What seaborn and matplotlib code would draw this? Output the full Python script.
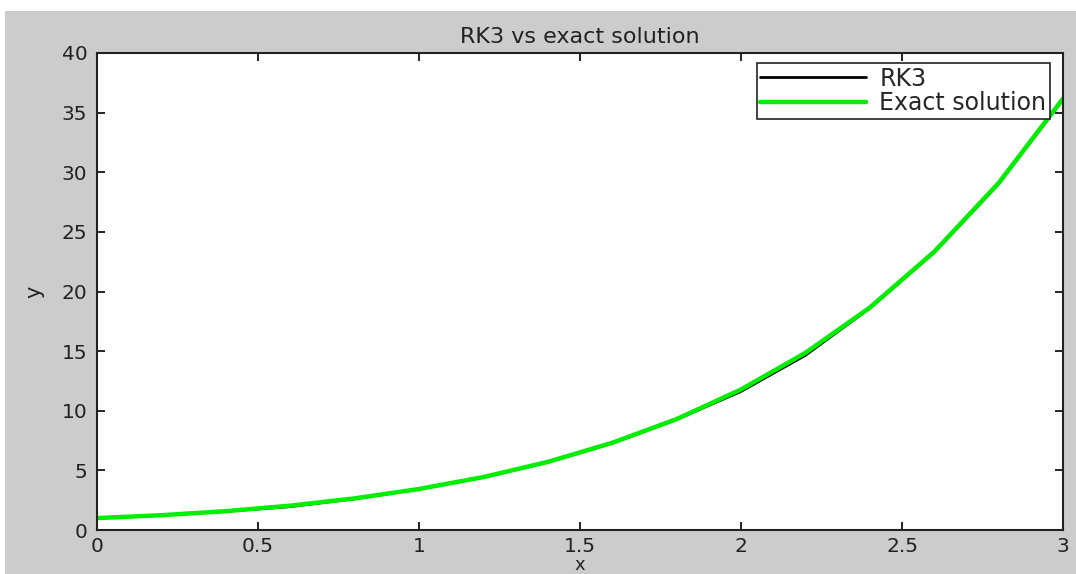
import numpy as np
import pandas as pd
import matplotlib
matplotlib.use("Agg")
import matplotlib.pyplot as plt
import seaborn as sns
from matplotlib.patches import Rectangle

x_vals = [0.0, 0.2, 0.4, 0.6, 0.8, 1.0, 1.2, 1.4, 1.6, 1.8, 2.0, 2.2, 2.4, 2.6, 2.8, 3.0]
rk3_vals = [1.00, 1.24, 1.57, 1.96, 2.62, 3.42, 4.42, 5.69, 7.28, 9.27, 11.62, 14.65, 18.60, 23.28, 29.02, 36.10]
exact_vals = [1.00, 1.24, 1.58, 2.04, 2.65, 3.44, 4.44, 5.71, 7.31, 9.30, 11.78, 14.85, 18.65, 23.33, 29.09, 36.17]
series_names = ["RK3", "Exact solution"]
x_ticks = [0, 0.5, 1, 1.5, 2, 2.5, 3]
y_ticks = [0, 5, 10, 15, 20, 25, 30, 35, 40]

df = pd.DataFrame({
    "x": x_vals * 2,
    "y": rk3_vals + exact_vals,
    "series": [series_names[0]] * len(x_vals) + [series_names[1]] * len(x_vals),
})

sns.set_theme(style="white")
plt.rcParams["font.family"] = ["DejaVu Sans"]

fig = plt.figure(figsize=(10.76, 5.74), dpi=100, facecolor="white")
fig.patches.append(Rectangle((5 / 1076, 0), 1, 1 - 11 / 574, transform=fig.transFigure,
                             facecolor="#cccccc", edgecolor="none", zorder=-10))
ax = fig.add_axes([97 / 1076, 1 - 530 / 574, (1063 - 97) / 1076, (530 - 53) / 574])
ax.set_facecolor("white")

sns.lineplot(data=df, x="x", y="y", hue="series", hue_order=series_names,
             palette={"RK3": "black", "Exact solution": "#00ee00"},
             ax=ax, sort=False, estimator=None, legend=True)
lines = ax.get_lines()
lines[0].set_linewidth(2.0)
lines[1].set_linewidth(3.2)

ax.set_xlim(0, 3)
ax.set_ylim(0, 40)
ax.set_xticks(x_ticks)
ax.set_xticklabels([f"{t:g}" for t in x_ticks])
ax.set_yticks(y_ticks)
ax.set_yticklabels([str(t) for t in y_ticks])
ax.tick_params(direction="in", length=6, width=1.2, color="black", labelsize=14.5,
               top=True, right=True, bottom=True, left=True, pad=7, labelcolor="#222222")
ax.tick_params(axis="x", pad=5)
for s in ax.spines.values():
    s.set_visible(True)
    s.set_color("#222222")
    s.set_linewidth(1.5)

ax.set_title("RK3 vs exact solution", fontsize=16, color="#222222", pad=7)
ax.set_xlabel("x", fontsize=13, color="#222222", labelpad=0)
ax.set_ylabel("y", fontsize=15, color="#222222", labelpad=12)

handles, labels = ax.get_legend_handles_labels()
for h, lw in zip(handles, [2.0, 3.2]):
    h.set_linewidth(lw)
leg = ax.legend(handles, labels, loc="upper right", bbox_to_anchor=(0.9865, 0.979),
                fontsize=17, frameon=True, fancybox=False, framealpha=1,
                edgecolor="#222222", handlelength=4.5, borderpad=0.15, labelspacing=0.02,
                handletextpad=0.55, borderaxespad=0)
leg.get_frame().set_linewidth(1.2)

fig.savefig("out.png", dpi=100, facecolor=fig.get_facecolor())
